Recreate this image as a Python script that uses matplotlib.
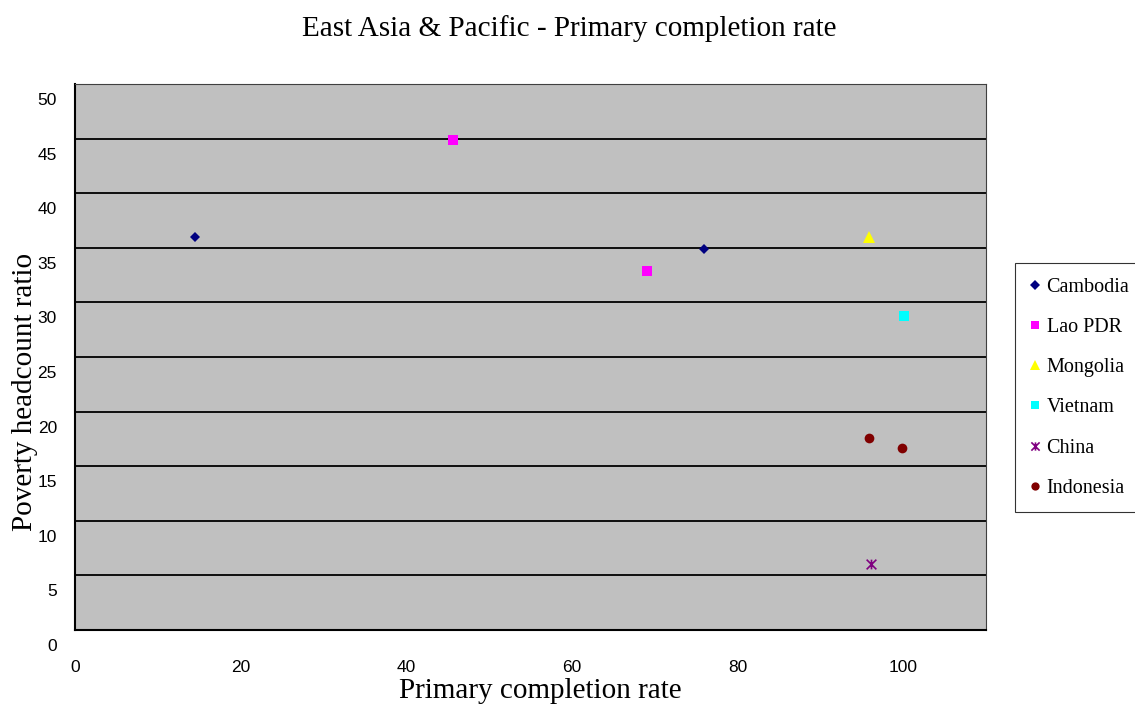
import matplotlib
matplotlib.use("Agg")
import matplotlib.pyplot as plt
from matplotlib.path import Path
import matplotlib.transforms as mtransforms

# Primary completion rate (x) vs poverty headcount ratio (y) per country
countries = ["Cambodia", "Lao PDR", "Mongolia", "Vietnam", "China", "Indonesia"]
completion = {
    "Cambodia": [14.5, 76.0],
    "Lao PDR": [45.6, 69.1],
    "Mongolia": [95.9],
    "Vietnam": [100.1],
    "China": [96.1],
    "Indonesia": [95.9, 99.9],
}
poverty = {
    "Cambodia": [36.0, 34.9],
    "Lao PDR": [44.9, 32.9],
    "Mongolia": [36.0],
    "Vietnam": [28.8],
    "China": [6.0],
    "Indonesia": [17.6, 16.7],
}
x_ticks = [0, 20, 40, 60, 80, 100]
y_ticks = [0, 5, 10, 15, 20, 25, 30, 35, 40, 45, 50]

# Star marker: an "x" with a vertical stroke through it
star = Path(
    [(-1, -1), (1, 1), (-1, 1), (1, -1), (0, -1), (0, 1)],
    [Path.MOVETO, Path.LINETO, Path.MOVETO, Path.LINETO, Path.MOVETO, Path.LINETO],
)

styles = {
    "Cambodia": dict(marker="D", color="#000080", ms=5.5),
    "Lao PDR": dict(marker="s", color="#FF00FF", ms=7),
    "Mongolia": dict(marker="^", color="#FFFF00", ms=8),
    "Vietnam": dict(marker="s", color="#00FFFF", ms=7),
    "China": dict(marker=star, color="#800080", ms=7),
    "Indonesia": dict(marker="o", color="#800000", ms=7),
}

serif = ["Liberation Serif", "DejaVu Serif"]
sans = ["Liberation Sans", "DejaVu Sans"]

fig = plt.figure(figsize=(11.35, 7.07), dpi=100)
ax = fig.add_axes([75 / 1135, 1 - 630 / 707, (986 - 75) / 1135, (630 - 84) / 707])
ax.set_facecolor("#C0C0C0")

for c in countries:
    st = styles[c]
    kw = dict(linestyle="none", marker=st["marker"], markersize=st["ms"],
              color=st["color"], label=c)
    if st["marker"] is star:
        kw.update(markeredgewidth=1.2, markerfacecolor="none", markeredgecolor=st["color"])
    else:
        kw.update(markeredgewidth=0)
    ax.plot(completion[c], poverty[c], **kw)

ax.set_xlim(0, 110)
ax.set_ylim(0, 50)
ax.set_xticks(x_ticks)
ax.set_yticks(y_ticks)
ax.yaxis.grid(True, color="black", linewidth=1.3)
ax.set_axisbelow(True)
ax.tick_params(axis="both", length=0, labelsize=12.5)
ax.tick_params(axis="y", pad=13)
ax.tick_params(axis="x", pad=6)
for lbl in ax.get_xticklabels() + ax.get_yticklabels():
    lbl.set_family(sans)
# y labels sit slightly below their gridlines
offset = mtransforms.ScaledTranslation(0, -15 / 100, fig.dpi_scale_trans)
for lbl in ax.get_yticklabels():
    lbl.set_transform(lbl.get_transform() + offset)
offset_x = mtransforms.ScaledTranslation(0, -22 / 100, fig.dpi_scale_trans)
for lbl in ax.get_xticklabels():
    lbl.set_transform(lbl.get_transform() + offset_x)

for s in ["left", "bottom"]:
    ax.spines[s].set_color("black")
    ax.spines[s].set_linewidth(1.5)
for s in ["top", "right"]:
    ax.spines[s].set_color("#404040")
    ax.spines[s].set_linewidth(0.8)

fig.text(569 / 1135, 1 - 29 / 707, "East Asia & Pacific - Primary completion rate",
         ha="center", va="center", fontsize=21, family=serif)
fig.text(540 / 1135, 1 - 691 / 707, "Primary completion rate",
         ha="center", va="center", fontsize=21, family=serif)
fig.text(25 / 1135, 1 - 392 / 707, "Poverty headcount ratio", rotation=90,
         ha="center", va="center", fontsize=21, family=serif)

leg = ax.legend(loc="upper left", bbox_to_anchor=(1015 / 1135, 1 - 263 / 707),
                bbox_transform=fig.transFigure, frameon=True, fancybox=False,
                prop={"family": serif, "size": 14.5}, labelspacing=1.05,
                handlelength=0.5, handletextpad=0.35, borderpad=0.72,
                borderaxespad=0, markerscale=0.85)
leg.get_frame().set_edgecolor("black")
leg.get_frame().set_linewidth(0.8)
leg.get_frame().set_facecolor("white")

fig.savefig("out.png", dpi=100)
